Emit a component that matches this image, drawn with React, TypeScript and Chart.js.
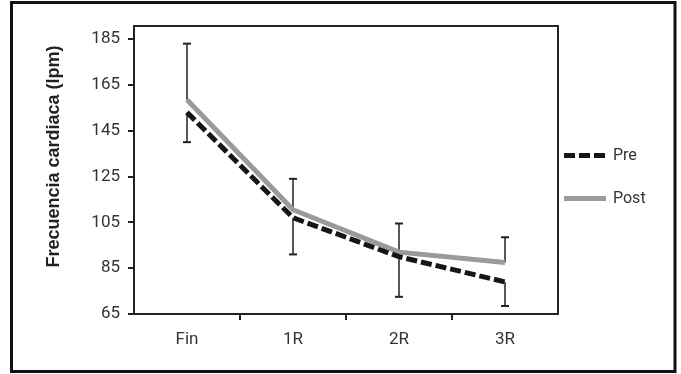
import { useEffect, useRef } from 'react';
import { Chart, registerables } from 'chart.js';

Chart.register(...registerables);

const categories = ['Fin', '1R', '2R', '3R'];
const seriesLabels = ['Pre', 'Post'];
const preValues = [153, 107, 90, 79];
const postValues = [158.5, 110.5, 92, 87.5];
// ends of the one-sided error bars (Post upward, Pre downward)
const postUpper = [183, 124, 104.5, 98.5];
const preLower = [140, 91, 72.5, 68.5];
const yTicks = [65, 85, 105, 125, 145, 165, 185];
const yTitle = 'Frecuencia cardiaca (lpm)';

const FONT = 'Roboto, "Liberation Sans", sans-serif';

const errorBarPlugin = {
  id: 'errorBars',
  beforeDatasetsDraw(chart: any) {
    const { ctx, scales } = chart;
    const x = scales.x;
    const y = scales.y;
    ctx.save();
    ctx.strokeStyle = '#222';
    const draw = (i: number, from: number, to: number) => {
      const px = x.getPixelForValue(i);
      const y0 = y.getPixelForValue(from);
      const y1 = y.getPixelForValue(to);
      ctx.lineWidth = 1.5;
      ctx.beginPath();
      ctx.moveTo(px, y0);
      ctx.lineTo(px, y1);
      ctx.stroke();
      ctx.lineWidth = 2;
      ctx.beginPath();
      ctx.moveTo(px - 4, y1);
      ctx.lineTo(px + 4, y1);
      ctx.stroke();
    };
    categories.forEach((_, i) => {
      draw(i, postValues[i], postUpper[i]);
      draw(i, preValues[i], preLower[i]);
    });
    ctx.restore();
  },
};

const decorPlugin = {
  id: 'decor',
  afterDraw(chart: any) {
    const { ctx, chartArea } = chart;
    ctx.save();
    // plot frame
    ctx.strokeStyle = '#222';
    ctx.lineWidth = 2;
    ctx.strokeRect(chartArea.left, chartArea.top, chartArea.right - chartArea.left, chartArea.bottom - chartArea.top);
    // outer border
    ctx.strokeStyle = '#111';
    ctx.lineWidth = 3;
    ctx.strokeRect(11.5, 2.5, 663.5, 369);
    // y title
    ctx.save();
    ctx.translate(54, 156.5);
    ctx.rotate(-Math.PI / 2);
    ctx.fillStyle = '#222';
    ctx.font = 'bold 18px "Liberation Sans", Arial, sans-serif';
    ctx.textAlign = 'center';
    ctx.textBaseline = 'middle';
    ctx.fillText(yTitle, 0, 0);
    ctx.restore();
    // legend
    const ys = [155.5, 198.5];
    chart.data.datasets.forEach((ds: any, i: number) => {
      ctx.save();
      ctx.strokeStyle = ds.borderColor;
      ctx.lineWidth = ds.borderWidth;
      ctx.setLineDash(ds.borderDash || []);
      ctx.lineCap = 'butt';
      ctx.beginPath();
      ctx.moveTo(564, ys[i]);
      ctx.lineTo(606, ys[i]);
      ctx.stroke();
      ctx.restore();
      ctx.fillStyle = '#333';
      ctx.font = '16px ' + FONT;
      ctx.textAlign = 'left';
      ctx.textBaseline = 'middle';
      ctx.fillText(ds.label, 613, ys[i]);
    });
    ctx.restore();
  },
};

export default function App() {
  const ref = useRef<HTMLCanvasElement | null>(null);
  useEffect(() => {
    if (!ref.current) return;
    const chart = new Chart(ref.current, {
      type: 'line',
      data: {
        labels: categories,
        datasets: [
          {
            label: seriesLabels[0],
            data: preValues,
            borderColor: '#161616',
            borderWidth: 5,
            borderDash: [11, 4],
            borderCapStyle: 'butt',
            pointRadius: 0,
            tension: 0,
            fill: false,
          },
          {
            label: seriesLabels[1],
            data: postValues,
            borderColor: '#9a9a9a',
            borderWidth: 5,
            borderCapStyle: 'butt',
            pointRadius: 0,
            tension: 0,
            fill: false,
          },
        ],
      },
      options: {
        responsive: false,
        animation: false,
        devicePixelRatio: 1,
        layout: { padding: { left: 0, top: 26, right: 123, bottom: 0 } },
        plugins: { legend: { display: false }, tooltip: { enabled: false } },
        scales: {
          x: {
            type: 'category',
            offset: true,
            grid: {
              offset: true,
              drawOnChartArea: false,
              drawTicks: true,
              tickLength: 6,
              lineWidth: 2,
              color: (c: any) => (c.index > 0 && c.index < categories.length ? '#222' : 'rgba(0,0,0,0)'),
            },
            border: { display: false },
            ticks: { color: '#333', font: { family: FONT, size: 17 }, padding: 10, maxRotation: 0 },
            afterFit: (s: any) => {
              s.height = 60;
            },
          },
          y: {
            min: 65,
            max: 190.7,
            afterBuildTicks: (axis: any) => {
              axis.ticks = yTicks.map((v) => ({ value: v }));
            },
            grid: {
              drawOnChartArea: false,
              drawTicks: true,
              tickLength: 6,
              lineWidth: 2,
              color: '#222',
            },
            border: { display: false },
            ticks: { color: '#333', font: { family: FONT, size: 17 }, padding: 8 },
            afterFit: (s: any) => {
              s.width = 134;
            },
          },
        },
      },
      plugins: [errorBarPlugin, decorPlugin],
    });
    return () => chart.destroy();
  }, []);
  return (
    <div style={{ position: 'fixed', left: 0, top: 0, width: 681, height: 374, background: '#fff' }}>
      <canvas ref={ref} width={681} height={374} style={{ display: 'block' }} />
    </div>
  );
}
